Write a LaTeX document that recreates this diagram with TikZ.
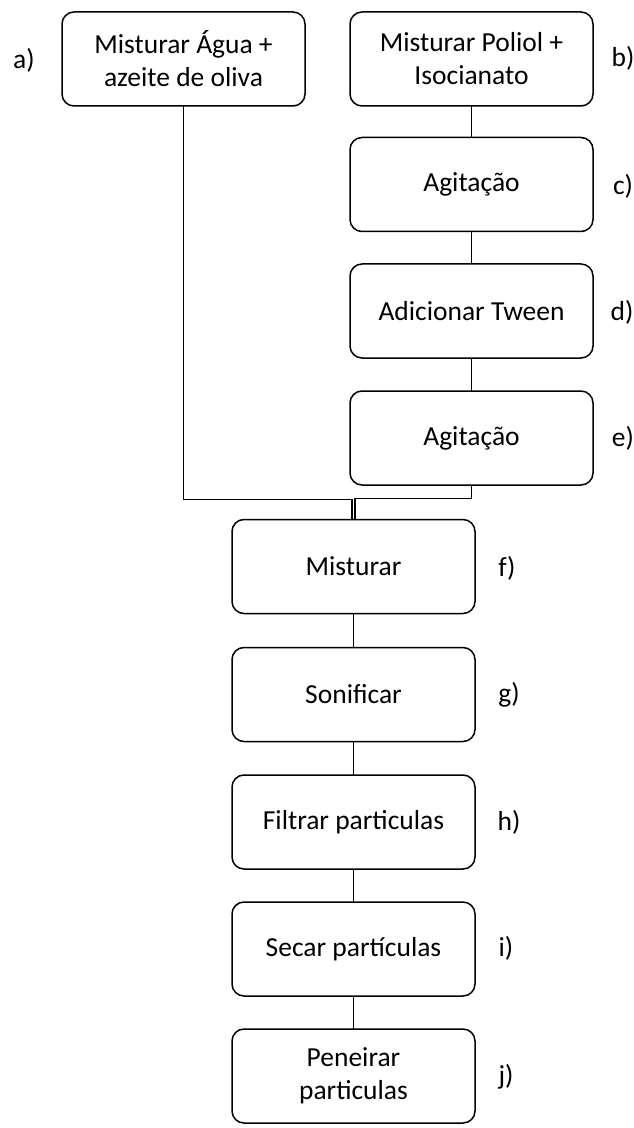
\documentclass[tikz,border=0pt]{standalone}
\usepackage{fontspec}
\setmainfont{Carlito}
\usepackage{tikz}
\usetikzlibrary{positioning}

\begin{document}
\begin{tikzpicture}[
  x=0.5pt, y=-0.5pt,
  every node/.style = {font=\fontsize{13.75}{16.5}\selectfont},
  stepbox/.style = {rectangle, rounded corners=6pt, draw=black, line width=0.75pt,
                    minimum width=121.5pt, minimum height=47pt, align=center,
                    inner sep=0pt, outer sep=0pt},
  tag/.style   = {inner sep=0pt},
  link/.style  = {draw=black, line width=0.65pt}
]

\useasboundingbox (0,0) rectangle (633,1128);

%% ── LEFT BRANCH (water + oil) ───────────────────────────────────
\node[stepbox] at (183.5, 59)   (mixa)  {Misturar Água +\\azeite de oliva};

%% ── RIGHT BRANCH (polyol + isocyanate) ──────────────────────────
\node[stepbox] at (471.5, 59)   (mixb)  {Misturar Poliol +\\Isocianato};
\node[stepbox] at (471.5, 184.5) (agitc) {Agitação};
\node[stepbox] at (471.5, 311)  (tweend) {Adicionar Tween};
\node[stepbox] at (471.5, 438)  (agite) {Agitação};

%% ── MAIN LINE ───────────────────────────────────────────────────
\node[stepbox] at (353.5, 566.5) (mixf)  {Misturar};
\node[stepbox] at (353.5, 694.5) (sonig) {Sonificar};
\node[stepbox] at (353.5, 822)   (filth) {Filtrar particulas};
\node[stepbox] at (353.5, 949)   (dryi)  {Secar partículas};
\node[stepbox] at (353.5, 1076)  (sievej) {Peneirar\\particulas};

%% ── STEP TAGS ───────────────────────────────────────────────────
\node[tag] at (24,  60)   (taga) {a)};
\node[tag] at (623, 58)   (tagb) {b)};
\node[tag] at (623, 186)  (tagc) {c)};
\node[tag] at (622, 312)  (tagd) {d)};
\node[tag] at (623, 438)  (tage) {e)};
\node[tag] at (507, 568)  (tagf) {f)};
\node[tag] at (509, 695)  (tagg) {g)};
\node[tag] at (509, 822)  (tagh) {h)};
\node[tag] at (506, 948)  (tagi) {i)};
\node[tag] at (506, 1077) (tagj) {j)};

%% ── CONNECTORS ──────────────────────────────────────────────────
\draw[link] (mixb)   -- (agitc);
\draw[link] (agitc)  -- (tweend);
\draw[link] (tweend) -- (agite);
\draw[link] (mixa.south) |- ([xshift=-0.8pt, yshift=10pt]mixf.north)
                         -- ([xshift=-0.8pt]mixf.north);
\draw[link] (agite.south) |- ([xshift=0.8pt, yshift=10.5pt]mixf.north)
                          -- ([xshift=0.8pt]mixf.north);
\draw[link] (mixf)  -- (sonig);
\draw[link] (sonig) -- (filth);
\draw[link] (filth) -- (dryi);
\draw[link] (dryi)  -- (sievej);

\end{tikzpicture}
\end{document}
